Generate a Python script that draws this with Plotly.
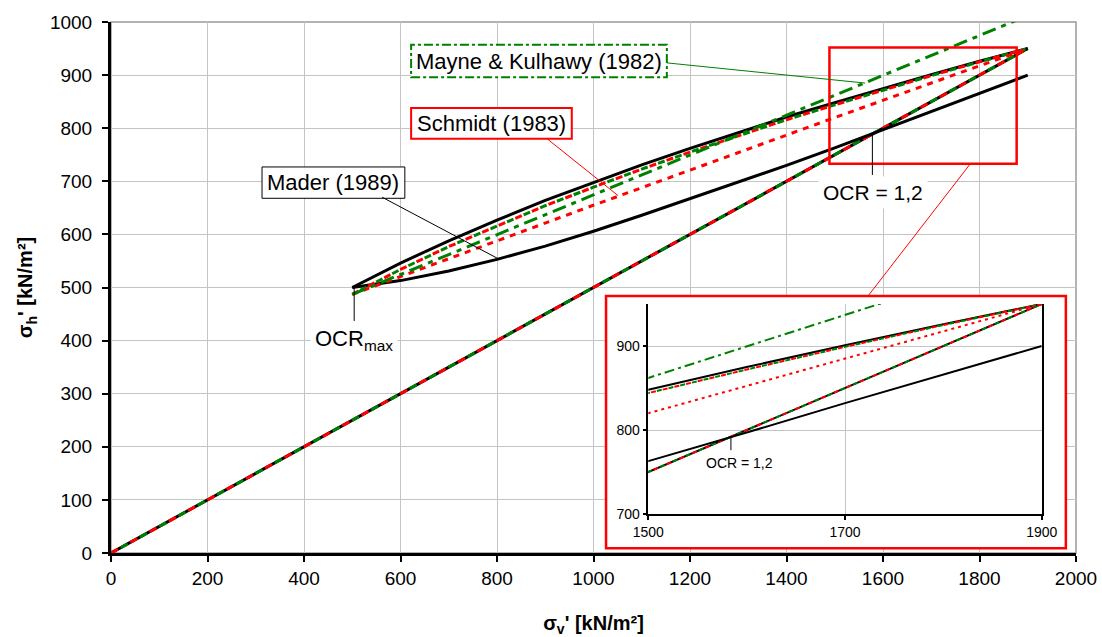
import plotly.graph_objects as go

# Normally consolidated loading line (K0 = 0.5)
sv_nc = [0, 1900]
sh_nc = [0, 950]

# Unloading / reloading cycle between sigma_v' = 1900 and OCRmax point (500 kN/m2)
sv_cycle = [500, 600, 700, 800, 900, 1000, 1100, 1200, 1300, 1400, 1500, 1600, 1700, 1800, 1900]
sh_mader_unload = [500, 546, 588, 627, 664, 698, 731, 762, 792, 821, 848, 875, 901, 926, 950]
sh_mader_reload = [500, 513, 531, 553, 578, 606, 636, 667, 698, 730, 763, 797, 832, 866, 900]
sh_mk_unload = [487, 534, 577, 616, 654, 689, 723, 755, 786, 816, 844, 872, 899, 925, 950]
sh_schmidt_unload = [487, 534, 577, 616, 654, 689, 723, 755, 786, 816, 844, 872, 899, 925, 950]

sv_reload = [500, 1000, 1500, 1900]
sh_mk_reload = [487, 675, 862, 1012]
sh_schmidt_reload = [487, 655, 820, 950]

# Axis ticks
x_ticks = [0, 200, 400, 600, 800, 1000, 1200, 1400, 1600, 1800, 2000]
y_ticks = [0, 100, 200, 300, 400, 500, 600, 700, 800, 900, 1000]
x_ticks_zoom = [1500, 1700, 1900]
y_ticks_zoom = [700, 800, 900]

BLACK = "#000000"
RED = "#FF0000"
GREEN = "#008000"
FONT = "Liberation Sans, Arial, sans-serif"

fig = go.Figure()


def add_curves(xa, ya, w, d):
    def line(x, y, color, dash):
        fig.add_trace(go.Scatter(
            x=x, y=y, mode="lines", xaxis=xa, yaxis=ya,
            line=dict(color=color, width=w, dash=dash),
            hoverinfo="skip", showlegend=False))

    # virgin compression line shared by all three approaches
    line(sv_nc, sh_nc, BLACK, "solid")
    line(sv_nc, sh_nc, RED, d["nc_red"])
    line(sv_nc, sh_nc, GREEN, d["nc_green"])
    # Mader (1989)
    line(sv_cycle, sh_mader_unload, BLACK, "solid")
    line(sv_cycle, sh_mader_reload, BLACK, "solid")
    # Schmidt (1983) and Mayne & Kulhawy (1982) unloading
    line(sv_cycle, sh_schmidt_unload, RED, d["un_red"])
    line(sv_cycle, sh_mk_unload, GREEN, d["un_green"])
    # reloading branches
    line(sv_reload, sh_schmidt_reload, RED, d["re_red"])
    line(sv_reload, sh_mk_reload, GREEN, d["re_green"])


add_curves("x", "y", 3, dict(
    nc_red="8px,14px", nc_green="0px,11px,8px,3px",
    un_red="7px,11px", un_green="0px,9px,7px,2px",
    re_red="6px,6px", re_green="14px,6px,5px,6px"))
add_curves("x2", "y2", 2, dict(
    nc_red="5px,9px", nc_green="0px,7px,5px,2px",
    un_red="5px,7px", un_green="0px,6px,5px,1px",
    re_red="3px,4px", re_green="10px,4px,3px,4px"))

shapes = []
# outer frame of the plot area (top / right)
shapes.append(dict(type="rect", xref="paper", yref="paper", x0=0, y0=0, x1=1, y1=1,
                   line=dict(color="#9a9a9a", width=1.5), layer="below"))
# white panel holding the detail view
shapes.append(dict(type="rect", xref="x", yref="y", x0=1026, y0=9, x1=1979, y1=484,
                   fillcolor="white", line=dict(color=RED, width=2.5), layer="between"))
# zoom window in the main chart and its connector
shapes.append(dict(type="rect", xref="x", yref="y", x0=1489, y0=733, x1=1877, y1=952,
                   line=dict(color=RED, width=2.5)))
shapes.append(dict(type="line", xref="x", yref="y", x0=1781, y0=733, x1=1569, y1=484,
                   line=dict(color=RED, width=1)))
# label boxes
shapes.append(dict(type="rect", xref="x", yref="y", x0=622, y0=896, x1=1152, y1=957,
                   fillcolor="white", line=dict(color=GREEN, width=2, dash="dashdot"), layer="between"))
shapes.append(dict(type="rect", xref="x", yref="y", x0=622, y0=780, x1=955, y1=838,
                   fillcolor="white", line=dict(color=RED, width=2), layer="between"))
shapes.append(dict(type="rect", xref="x", yref="y", x0=313, y0=668, x1=609, y1=727,
                   fillcolor="white", line=dict(color=BLACK, width=1), layer="between"))
# leader lines
shapes.append(dict(type="line", xref="x", yref="y", x0=1152, y0=923, x1=1563, y1=885,
                   line=dict(color=GREEN, width=1)))
shapes.append(dict(type="line", xref="x", yref="y", x0=904, y0=780, x1=1051, y1=673,
                   line=dict(color=RED, width=1)))
shapes.append(dict(type="line", xref="x", yref="y", x0=562, y0=670, x1=805, y1=553,
                   line=dict(color=BLACK, width=1)))
shapes.append(dict(type="line", xref="x", yref="y", x0=1578, y0=712, x1=1578, y1=789,
                   line=dict(color=BLACK, width=1)))
shapes.append(dict(type="line", xref="x", yref="y", x0=504, y0=437, x1=504, y1=500,
                   line=dict(color=BLACK, width=1)))
shapes.append(dict(type="line", xref="x2", yref="y2", x0=1584, y0=776, x1=1584, y1=792,
                   line=dict(color=BLACK, width=1)))

annotations = [
    dict(x=887, y=926.5, xref="x", yref="y", text="Mayne & Kulhawy (1982)", showarrow=False,
         font=dict(family=FONT, size=22, color=BLACK)),
    dict(x=788.5, y=809, xref="x", yref="y", text="Schmidt (1983)", showarrow=False,
         font=dict(family=FONT, size=22, color=BLACK)),
    dict(x=461, y=697.5, xref="x", yref="y", text="Mader (1989)", showarrow=False,
         font=dict(family=FONT, size=22, color=BLACK)),
    dict(x=1579, y=678, xref="x", yref="y", text="OCR = 1,2", showarrow=False, bgcolor="white",
         borderpad=4, font=dict(family=FONT, size=21, color=BLACK)),
    dict(x=504, y=401, xref="x", yref="y", text="OCR<sub>max</sub>", showarrow=False, bgcolor="white",
         borderpad=4, font=dict(family=FONT, size=22, color=BLACK)),
    dict(x=1593, y=761, xref="x2", yref="y2", text="OCR = 1,2", showarrow=False,
         font=dict(family=FONT, size=14, color=BLACK)),
]

fig.update_layout(
    width=1102, height=637,
    margin=dict(l=111, r=26, t=22, b=84),
    paper_bgcolor="white", plot_bgcolor="white",
    showlegend=False,
    shapes=shapes, annotations=annotations,
    font=dict(family=FONT, color=BLACK),
    xaxis=dict(
        range=[0, 2000], tickvals=x_ticks, showgrid=True, gridcolor="#c4c4c4", gridwidth=1,
        showline=True, linecolor=BLACK, linewidth=3, ticks="outside", ticklen=6, tickwidth=2,
        tickcolor=BLACK, tickfont=dict(family=FONT, size=19), zeroline=False, automargin=False,
        title=dict(text="<b>σ<sub>v</sub>' [kN/m²]</b>", font=dict(family=FONT, size=20), standoff=29),
    ),
    yaxis=dict(
        range=[0, 1000], tickvals=y_ticks, showgrid=True, gridcolor="#c4c4c4", gridwidth=1,
        showline=True, linecolor=BLACK, linewidth=3, ticks="outside", ticklen=6, tickwidth=2,
        tickcolor=BLACK, tickfont=dict(family=FONT, size=19), zeroline=False, ticklabelstandoff=6,
        automargin=False,
        title=dict(text="<b>σ<sub>h</sub>' [kN/m²]</b>", font=dict(family=FONT, size=20), standoff=12),
    ),
    xaxis2=dict(
        domain=[0.5568, 0.9645], anchor="y2", range=[1500, 1900], tickvals=x_ticks_zoom,
        showgrid=True, gridcolor="#c4c4c4", gridwidth=1, showline=True, linecolor=BLACK,
        linewidth=1.5, ticks="outside", ticklen=4, tickwidth=1.5, tickcolor=BLACK,
        tickfont=dict(family=FONT, size=14), zeroline=False, automargin=False,
    ),
    yaxis2=dict(
        domain=[0.0734, 0.4689], anchor="x2", range=[700, 950], tickvals=y_ticks_zoom,
        showgrid=True, gridcolor="#c4c4c4", gridwidth=1, showline=True, linecolor=BLACK,
        linewidth=1.5, mirror=True, ticks="outside", ticklen=4, tickwidth=1.5, tickcolor=BLACK,
        tickfont=dict(family=FONT, size=14), zeroline=False, automargin=False,
    ),
)

fig.write_html("out.html")
